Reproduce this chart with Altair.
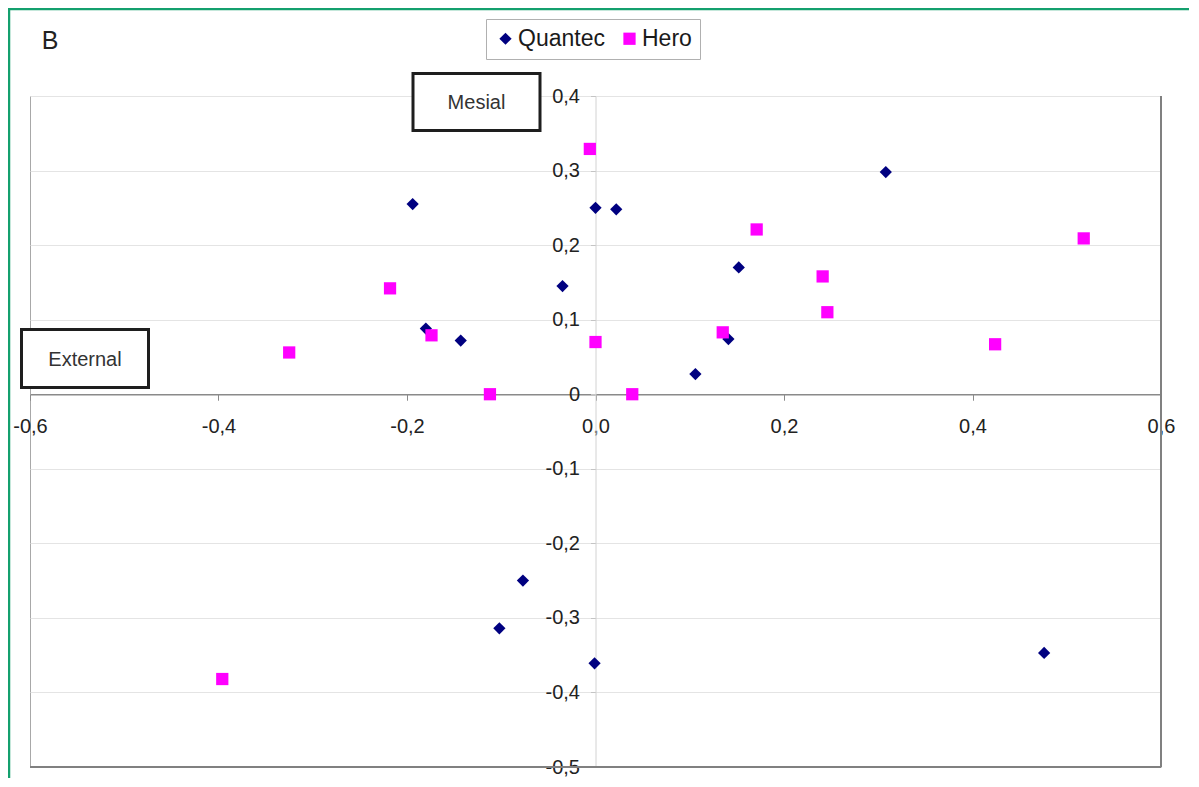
import altair as alt
import pandas as pd

# ---- data ----
series_names = ["Quantec", "Hero"]
quantec_x = [-0.194, 0.000, 0.022, 0.308, -0.035, 0.152, -0.180, -0.143, 0.141, 0.106, -0.077, -0.102, -0.001, 0.476]
quantec_y = [0.255, 0.250, 0.248, 0.298, 0.145, 0.170, 0.088, 0.072, 0.074, 0.027, -0.250, -0.314, -0.361, -0.347]
hero_x = [-0.006, 0.171, 0.518, 0.241, -0.218, 0.246, 0.135, -0.174, -0.325, 0.000, 0.424, -0.112, 0.039, -0.396]
hero_y = [0.329, 0.221, 0.209, 0.158, 0.142, 0.110, 0.083, 0.079, 0.056, 0.070, 0.067, 0.000, 0.000, -0.382]
x_ticks = [-0.6, -0.4, -0.2, 0.0, 0.2, 0.4, 0.6]
y_ticks = [0.4, 0.3, 0.2, 0.1, 0.0, -0.1, -0.2, -0.3, -0.4, -0.5]
panel_label = "B"
box_labels = ["Mesial", "External"]

df = pd.DataFrame({
    "x": quantec_x + hero_x,
    "y": quantec_y + hero_y,
    "series": [series_names[0]] * len(quantec_x) + [series_names[1]] * len(hero_x),
})

W, H = 1131, 671
FONT = "Liberation Sans"
X_DOM = [-0.6, 0.6]
Y_DOM = [-0.5, 0.4]
x0 = W * (0 - X_DOM[0]) / (X_DOM[1] - X_DOM[0])
y0 = H * (Y_DOM[1] - 0) / (Y_DOM[1] - Y_DOM[0])

x_label_expr = "(datum.value < 0 ? '-' : '') + replace(format(abs(datum.value), '.1f'), '.', ',')"
y_label_expr = ("abs(datum.value) < 1e-9 ? '0' : (datum.value < 0 ? '-' : '') + "
                "replace(format(abs(datum.value), '.1f'), '.', ',')")

legend = alt.Legend(
    title=None, orient="none", legendX=456, legendY=-77, direction="horizontal",
    strokeColor="#b0b0b0", fillColor="white", padding=8, labelFontSize=23,
    labelFont=FONT, labelColor="#1a1a1a", symbolSize=150, symbolStrokeWidth=0,
    columnPadding=13, labelOffset=1,
)

points = alt.Chart(df).mark_point(filled=True, opacity=1, strokeWidth=0, size=150).encode(
    x=alt.X("x:Q", scale=alt.Scale(domain=X_DOM, nice=False, zero=False),
            axis=alt.Axis(values=x_ticks, labelExpr=x_label_expr, offset=-(H - y0), grid=False,
                          domainColor="#8a8a8a", domainWidth=1.5, tickColor="#8a8a8a", tickSize=6,
                          labelPadding=16, labelFontSize=20, labelFont=FONT, labelColor="#222222",
                          labelFlush=False, labelOverlap=False, title=None)),
    y=alt.Y("y:Q", scale=alt.Scale(domain=Y_DOM, nice=False, zero=False),
            axis=alt.Axis(values=y_ticks, labelExpr=y_label_expr, offset=-x0, grid=True,
                          gridColor="#e4e4e4", gridWidth=1, domainColor="#d2d2d2",
                          tickColor="#c4c4c4", tickSize=5, labelPadding=11, labelFontSize=20,
                          labelFont=FONT, labelColor="#222222", labelFlush=False,
                          labelOverlap=False, title=None)),
    color=alt.Color("series:N", scale=alt.Scale(domain=series_names, range=["#000080", "#FF00FF"]),
                    legend=legend),
    shape=alt.Shape("series:N", scale=alt.Scale(domain=series_names, range=["diamond", "square"]),
                    legend=legend),
)

one = alt.Data(values=[{"k": 1}])

right_edge = alt.Chart(one).mark_rule(color="#808080", strokeWidth=2).encode(
    x=alt.value(W), y=alt.value(0), y2=alt.value(H))
bottom_edge = alt.Chart(one).mark_rule(color="#808080", strokeWidth=2).encode(
    x=alt.value(0), x2=alt.value(W), y=alt.value(H))

outer = alt.Chart(one).mark_rect(fillOpacity=0, stroke="#14a06e", strokeWidth=2.5).encode(
    x=alt.value(-21), x2=alt.value(W + 200), y=alt.value(-87), y2=alt.value(H + 200))

b_text = alt.Chart(one).mark_text(text=panel_label, fontSize=25, font=FONT, color="#222222",
                                  align="center", baseline="middle").encode(
    x=alt.value(20), y=alt.value(-55))

mesial_box = alt.Chart(one).mark_rect(fill="white", stroke="#1e1e1e", strokeWidth=3).encode(
    x=alt.value(383), x2=alt.value(510), y=alt.value(-22.5), y2=alt.value(34.5))
mesial_text = alt.Chart(one).mark_text(text=box_labels[0], fontSize=20, font=FONT, color="#333333",
                                       align="center", baseline="middle").encode(
    x=alt.value(446.5), y=alt.value(7))

ext_box = alt.Chart(one).mark_rect(fill="white", stroke="#1e1e1e", strokeWidth=3).encode(
    x=alt.value(-8.5), x2=alt.value(118.5), y=alt.value(233.5), y2=alt.value(291.5))
ext_text = alt.Chart(one).mark_text(text=box_labels[1], fontSize=20, font=FONT, color="#333333",
                                    align="center", baseline="middle").encode(
    x=alt.value(55), y=alt.value(264))

chart = alt.layer(
    points, right_edge, bottom_edge, outer, b_text, mesial_box, mesial_text, ext_box, ext_text
).properties(
    width=W, height=H,
    autosize=alt.AutoSizeParams(type="none"),
    padding={"left": 22, "top": 88, "right": 28, "bottom": 11},
    background="white",
).configure_view(stroke="#a8a8a8", strokeWidth=1)

chart.save("out.html", embed_options={"renderer": "svg", "actions": False})
